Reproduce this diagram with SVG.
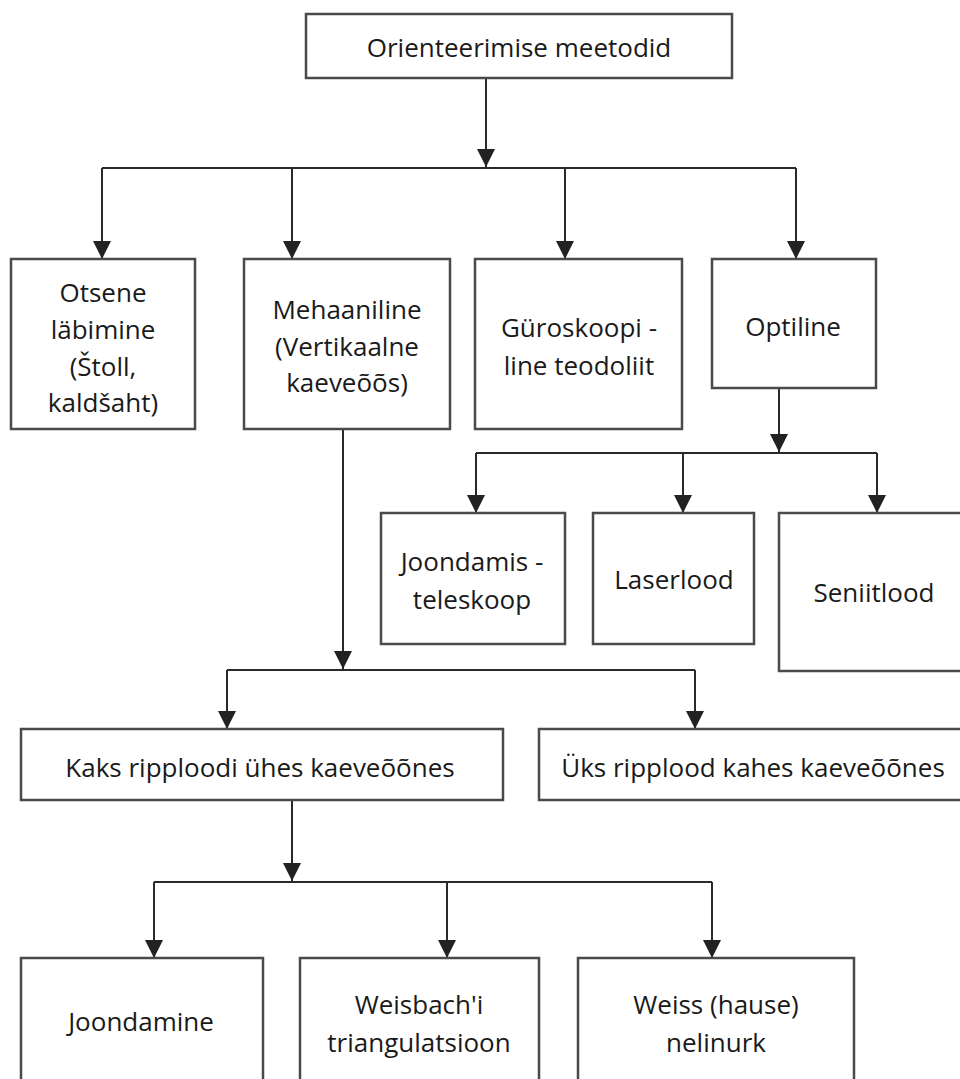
<svg xmlns="http://www.w3.org/2000/svg" width="960" height="1079" viewBox="0 0 960 1079">
<style>
  .box { fill: #ffffff; stroke: #4a4a4a; stroke-width: 2.5; }
  .lbl { font-family: "Open Sans", "Noto Sans", "DejaVu Sans", sans-serif; font-size: 26px; fill: #1a1a1a; text-anchor: middle; }
  .con { fill: none; stroke: #2a2a2a; stroke-width: 2; }
  .arr { fill: none; stroke: #2a2a2a; stroke-width: 2; marker-end: url(#ah); }
</style>
<defs>
  <marker id="ah" viewBox="0 0 18 18" refX="18" refY="9" markerWidth="18" markerHeight="18" markerUnits="userSpaceOnUse" orient="auto">
    <path d="M0,0 L18,9 L0,18 Z" fill="#222222"/>
  </marker>
</defs>
<rect width="960" height="1079" fill="#ffffff"/>

<g id="connectors">
  <path class="arr" d="M486,78 V167"/>
  <path class="con" d="M102,168 H796"/>
  <path class="arr" d="M102,168 V259"/>
  <path class="arr" d="M292,168 V259"/>
  <path class="arr" d="M565,168 V259"/>
  <path class="arr" d="M796,168 V259"/>

  <path class="arr" d="M779,388 V452"/>
  <path class="con" d="M476,453 H877"/>
  <path class="arr" d="M476,453 V513"/>
  <path class="arr" d="M683,453 V513"/>
  <path class="arr" d="M877,453 V513"/>

  <path class="arr" d="M343,429 V669"/>
  <path class="con" d="M227,670 H695"/>
  <path class="arr" d="M227,670 V729"/>
  <path class="arr" d="M695,670 V729"/>

  <path class="arr" d="M292,800 V881"/>
  <path class="con" d="M154,882 H712"/>
  <path class="arr" d="M154,882 V958"/>
  <path class="arr" d="M447,882 V958"/>
  <path class="arr" d="M712,882 V958"/>
</g>

<g id="n-root">
  <rect class="box" x="306" y="14" width="426" height="64"/>
  <text class="lbl" x="519" y="57">Orienteerimise meetodid</text>
</g>

<g id="n-otsene">
  <rect class="box" x="11" y="259" width="184" height="170"/>
  <text class="lbl" x="103" y="302">Otsene</text>
  <text class="lbl" x="103" y="339">läbimine</text>
  <text class="lbl" x="103" y="376">(Štoll,</text>
  <text class="lbl" x="103" y="412">kaldšaht)</text>
</g>

<g id="n-mehaaniline">
  <rect class="box" x="244" y="259" width="206" height="170"/>
  <text class="lbl" x="347" y="319">Mehaaniline</text>
  <text class="lbl" x="347" y="356">(Vertikaalne</text>
  <text class="lbl" x="347" y="392">kaeveõõs)</text>
</g>

<g id="n-guroskoop">
  <rect class="box" x="475" y="259" width="207" height="170"/>
  <text class="lbl" x="579" y="337">Güroskoopi -</text>
  <text class="lbl" x="579" y="375">line teodoliit</text>
</g>

<g id="n-optiline">
  <rect class="box" x="712" y="259" width="164" height="129"/>
  <text class="lbl" x="793" y="336">Optiline</text>
</g>

<g id="n-joondamis">
  <rect class="box" x="381" y="513" width="184" height="131"/>
  <text class="lbl" x="472" y="571">Joondamis -</text>
  <text class="lbl" x="472" y="609">teleskoop</text>
</g>

<g id="n-laserlood">
  <rect class="box" x="593" y="513" width="161" height="131"/>
  <text class="lbl" x="674" y="589">Laserlood</text>
</g>

<g id="n-seniitlood">
  <rect class="box" x="779" y="513" width="190" height="158"/>
  <text class="lbl" x="874" y="602">Seniitlood</text>
</g>

<g id="n-kaks">
  <rect class="box" x="21" y="729" width="482" height="71"/>
  <text class="lbl" x="260" y="777">Kaks ripploodi ühes kaeveõõnes</text>
</g>

<g id="n-uks">
  <rect class="box" x="539" y="729" width="430" height="71"/>
  <text class="lbl" x="753" y="777">Üks ripplood kahes kaeveõõnes</text>
</g>

<g id="n-joondamine">
  <rect class="box" x="21" y="958" width="242" height="140"/>
  <text class="lbl" x="141" y="1031">Joondamine</text>
</g>

<g id="n-weisbach">
  <rect class="box" x="300" y="958" width="239" height="140"/>
  <text class="lbl" x="419" y="1014">Weisbach'i</text>
  <text class="lbl" x="419" y="1052">triangulatsioon</text>
</g>

<g id="n-weiss">
  <rect class="box" x="578" y="958" width="276" height="140"/>
  <text class="lbl" x="716" y="1014">Weiss (hause)</text>
  <text class="lbl" x="716" y="1052">nelinurk</text>
</g>
</svg>
